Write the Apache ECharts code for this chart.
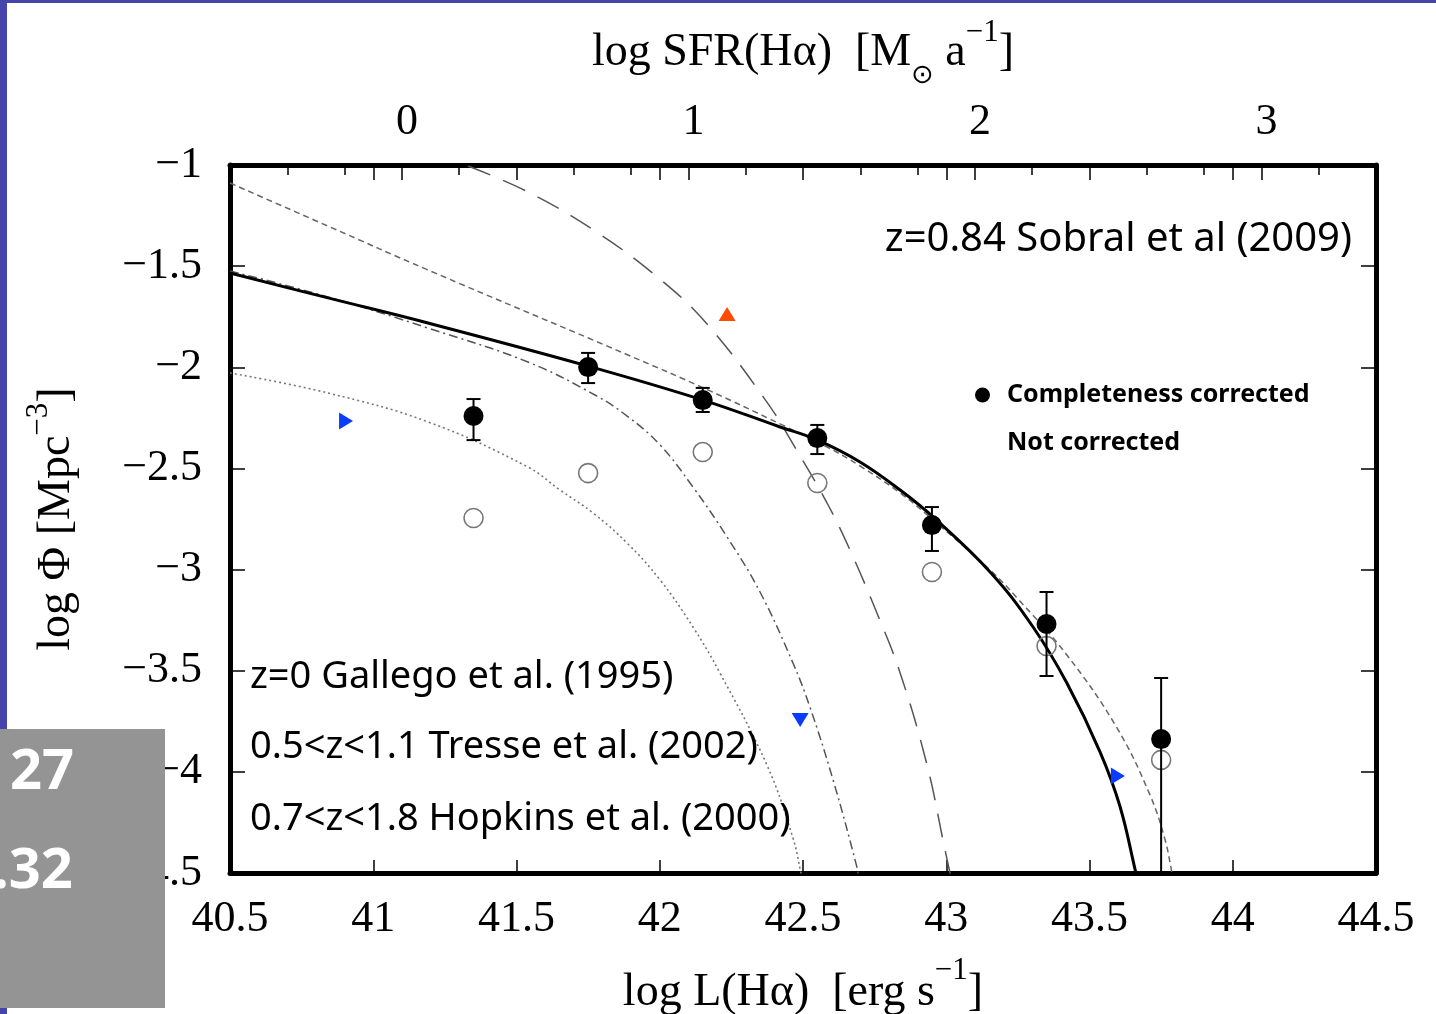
<!DOCTYPE html>
<html>
<head>
<meta charset="utf-8">
<script src="https://cdn.jsdelivr.net/npm/echarts@6/dist/echarts.min.js"></script>
<style>html,body{margin:0;padding:0;background:#fff;}#c{width:1436px;height:1014px;}</style>
</head>
<body>
<div id="c"></div>
<script>
// ---- axis ticks ----
const xTickValues = [40.5, 41, 41.5, 42, 42.5, 43, 43.5, 44, 44.5];
const yTickValues = [-1, -1.5, -2, -2.5, -3, -3.5, -4, -4.5];
const sfrTickLabels = ['0', '1', '2', '3'];

// ---- data points (log L, log Phi) ----
const binCentres = [41.35, 41.75, 42.15, 42.55, 42.95, 43.35, 43.75];
const phiCorrected = [-2.241, -1.999, -2.162, -2.350, -2.780, -3.269, -3.838];
const errHigh = [-2.157, -1.929, -2.102, -2.285, -2.691, -3.111, -3.536];
const errLow = [-2.360, -2.078, -2.221, -2.429, -2.908, -3.526, -4.60];
const phiUncorrected = [-2.745, -2.523, -2.419, -2.572, -3.012, -3.378, -3.941];

// ---- curves ----
const sobralFit = [[40.5,-1.534],[40.842,-1.657],[41.191,-1.781],[41.750,-1.994],[42.151,-2.162],[42.420,-2.295],[42.549,-2.359],[42.699,-2.468],[42.839,-2.607],[42.954,-2.740],[43.153,-3.012],[43.303,-3.284],[43.421,-3.561],[43.537,-3.902],[43.606,-4.169],[43.662,-4.500],[43.669,-4.544]];
const shortDashFit = [[40.5,-1.089],[40.842,-1.302],[41.191,-1.519],[41.889,-1.939],[42.168,-2.112],[42.420,-2.280],[42.584,-2.394],[42.699,-2.488],[42.839,-2.621],[42.954,-2.755],[43.153,-3.002],[43.247,-3.140],[43.421,-3.422],[43.596,-3.783],[43.711,-4.114],[43.764,-4.337],[43.788,-4.500],[43.795,-4.544]];
const tresseFit = [[40.5,-1.524],[40.842,-1.652],[41.191,-1.806],[41.540,-1.974],[41.774,-2.137],[41.886,-2.241],[42.001,-2.384],[42.116,-2.592],[42.235,-2.839],[42.350,-3.111],[42.465,-3.462],[42.524,-3.679],[42.605,-4.040],[42.688,-4.470],[42.697,-4.544]];
const gallegoFit = [[40.5,-2.028],[40.842,-2.127],[41.191,-2.270],[41.540,-2.493],[41.652,-2.607],[41.767,-2.720],[41.886,-2.869],[42.001,-3.051],[42.116,-3.284],[42.210,-3.511],[42.374,-3.966],[42.465,-4.327],[42.493,-4.500],[42.500,-4.544]];
const longDashFit = [[41.331,-1.005],[41.540,-1.133],[41.774,-1.326],[42.004,-1.568],[42.168,-1.791],[42.374,-2.172],[42.465,-2.379],[42.584,-2.671],[42.664,-2.903],[42.758,-3.215],[42.839,-3.511],[42.933,-3.966],[42.992,-4.361],[43.013,-4.500],[43.020,-4.544]];

// ---- triangle markers ----
const orangeUp = [[42.235, -1.737]];
const blueRight = [[40.905, -2.266], [43.599, -4.020]];
const blueDown = [[42.490, -3.744]];

const SERIF = '"Liberation Serif", "Times New Roman", serif';
const COMIC = '"Comic Sans MS", "Noto Sans", sans-serif';
const minus = v => (v < 0 ? '\u2212' : '') + Math.abs(v);

const chart = echarts.init(document.getElementById('c'), null, {renderer: 'canvas'});

const curve = (name, data, color, width, type) => ({
  type: 'line', name, data, showSymbol: false, symbol: 'none', smooth: 0.4,
  xAxisIndex: 0, yAxisIndex: 0, clip: true, silent: true, z: 2,
  lineStyle: {color, width, type}
});

const labelStyle = {fontFamily: COMIC, fontSize: 38, fontWeight: 'normal', color: '#000'};

const option = {
  animation: false,
  backgroundColor: '#fff',
  grid: {left: 230, right: 60, top: 165, bottom: 141, show: false, containLabel: false, outerBoundsMode: 'none'},
  title: [
    {text: 'z=0.84 Sobral et al (2009)', right: 84, top: 220, padding: 0,
     textStyle: {fontFamily: COMIC, fontSize: 40, fontWeight: 'normal', color: '#000'}},
    {text: 'z=0 Gallego et al. (1995)', left: 250, top: 658, padding: 0, textStyle: labelStyle},
    {text: '0.5<z<1.1 Tresse et al. (2002)', left: 250, top: 728, padding: 0, textStyle: labelStyle},
    {text: '0.7<z<1.8 Hopkins et al. (2000)', left: 250, top: 800, padding: 0, textStyle: labelStyle}
  ],
  legend: {
    orient: 'vertical', left: 970, top: 373, itemGap: 14, itemWidth: 15, itemHeight: 15,
    selectedMode: false,
    textStyle: {fontFamily: COMIC, fontSize: 25, fontWeight: 'bold', color: '#000', padding: [0, 0, 0, 12], lineHeight: 34},
    data: [
      {name: 'Completeness corrected', icon: 'circle', itemStyle: {color: '#000', opacity: 1}},
      {name: 'Not corrected', icon: 'none'}
    ]
  },
  xAxis: [
    {
      type: 'value', position: 'bottom', min: 40.5, max: 44.5, interval: 0.5,
      name: '{n|log L(H\u03b1)  [erg s}{sup|\u22121}{n|]}',
      nameLocation: 'middle', nameGap: 82,
      nameTextStyle: {color: '#000', rich: {
        n: {fontFamily: SERIF, fontSize: 46, color: '#000'},
        sup: {fontFamily: SERIF, fontSize: 31, color: '#000', padding: [0, 0, 44, 0]}
      }},
      axisLine: {show: true, onZero: false, lineStyle: {color: '#000', width: 5}},
      axisTick: {show: true, inside: true, length: 13, lineStyle: {color: '#000', width: 1.5}},
      splitLine: {show: false},
      axisLabel: {show: true, margin: 24, fontFamily: SERIF, fontSize: 44, color: '#000',
        formatter: v => String(v)}
    },
    {
      type: 'value', position: 'top', min: -0.6, max: 3.4, splitNumber: 4,
      name: '{n|log SFR(H\u03b1)  [M}{sub|\u2299}{n| a}{sup|\u22121}{n|]}',
      nameLocation: 'middle', nameGap: 76,
      nameTextStyle: {color: '#000', rich: {
        n: {fontFamily: SERIF, fontSize: 46, color: '#000'},
        sub: {fontFamily: '"DejaVu Sans", sans-serif', fontSize: 27, color: '#000', padding: [46, 0, 0, 0]},
        sup: {fontFamily: SERIF, fontSize: 31, color: '#000', padding: [0, 0, 40, 0]}
      }},
      axisLine: {show: true, onZero: false, lineStyle: {color: '#000', width: 5}},
      axisTick: {show: true, inside: true, length: 15, lineStyle: {color: '#000', width: 1.5}},
      minorTick: {show: true, splitNumber: 5, length: 10, lineStyle: {color: '#000', width: 1.5}},
      splitLine: {show: false},
      axisLabel: {show: true, margin: 21, fontFamily: SERIF, fontSize: 44, color: '#000',
        showMinLabel: false, showMaxLabel: false, padding: [0, 0, 0, 10],
        formatter: v => (Math.abs(v - Math.round(v)) < 1e-6 && sfrTickLabels[Math.round(v)] !== undefined) ? sfrTickLabels[Math.round(v)] : ''}
    },
    {
      type: 'value', position: 'top', min: 40.5, max: 44.5, interval: 0.5,
      axisLine: {show: false},
      axisTick: {show: true, inside: true, length: 15, lineStyle: {color: '#000', width: 1.5}},
      axisLabel: {show: false}, splitLine: {show: false}
    }
  ],
  yAxis: [
    {
      type: 'value', position: 'left', min: -4.5, max: -1, interval: 0.5,
      name: '{n|log \u03a6 [Mpc}{sup|\u22123}{n|]}',
      nameLocation: 'middle', nameGap: 140, nameRotate: 90,
      nameTextStyle: {color: '#000', rich: {
        n: {fontFamily: SERIF, fontSize: 46, color: '#000'},
        sup: {fontFamily: SERIF, fontSize: 31, color: '#000', padding: [0, 0, 36, 0]}
      }},
      axisLine: {show: true, onZero: false, lineStyle: {color: '#000', width: 5}},
      axisTick: {show: true, inside: true, length: 15, lineStyle: {color: '#000', width: 1.5}},
      splitLine: {show: false},
      axisLabel: {show: true, margin: 28, fontFamily: SERIF, fontSize: 44, color: '#000', formatter: minus}
    },
    {
      type: 'value', position: 'right', min: -4.5, max: -1, interval: 0.5,
      axisLine: {show: true, onZero: false, lineStyle: {color: '#000', width: 5}},
      axisTick: {show: true, inside: true, length: 15, lineStyle: {color: '#000', width: 1.5}},
      axisLabel: {show: false}, splitLine: {show: false}
    }
  ],
  series: [
    curve('Gallego z=0', gallegoFit, '#777', 1.6, [2, 3]),
    curve('Tresse', tresseFit, '#555', 1.5, [9, 4, 2, 4]),
    curve('Long dashed', longDashFit, '#555', 1.5, [24, 14]),
    curve('Short dashed', shortDashFit, '#666', 1.5, [6, 4]),
    curve('Sobral fit', sobralFit, '#000', 3, 'solid'),
    {
      type: 'custom', name: 'errors', xAxisIndex: 0, yAxisIndex: 0, clip: true, silent: true, z: 4,
      data: binCentres.map((x, i) => [x, errLow[i], errHigh[i]]),
      renderItem: (params, api) => {
        const x = api.value(0);
        const lo = api.coord([x, api.value(1)]);
        const hi = api.coord([x, api.value(2)]);
        const cap = 7;
        const style = {stroke: '#000', lineWidth: 2, fill: null};
        return {type: 'group', children: [
          {type: 'line', shape: {x1: lo[0], y1: lo[1], x2: hi[0], y2: hi[1]}, style},
          {type: 'line', shape: {x1: lo[0] - cap, y1: lo[1], x2: lo[0] + cap, y2: lo[1]}, style},
          {type: 'line', shape: {x1: hi[0] - cap, y1: hi[1], x2: hi[0] + cap, y2: hi[1]}, style}
        ]};
      }
    },
    {
      type: 'scatter', name: 'Not corrected', xAxisIndex: 0, yAxisIndex: 0, z: 3,
      data: binCentres.map((x, i) => [x, phiUncorrected[i]]),
      symbol: 'circle', symbolSize: 19,
      itemStyle: {color: 'rgba(255,255,255,0)', borderColor: '#777', borderWidth: 1.6, opacity: 1}
    },
    {
      type: 'scatter', name: 'Completeness corrected', xAxisIndex: 0, yAxisIndex: 0, z: 5,
      data: binCentres.map((x, i) => [x, phiCorrected[i]]),
      symbol: 'circle', symbolSize: 20,
      itemStyle: {color: '#000', opacity: 1}
    },
    {
      type: 'scatter', name: 'orange', xAxisIndex: 0, yAxisIndex: 0, z: 6, silent: true,
      data: orangeUp, symbol: 'triangle', symbolSize: [17, 14],
      itemStyle: {color: '#ff4a00', opacity: 1}
    },
    {
      type: 'scatter', name: 'blueRight', xAxisIndex: 0, yAxisIndex: 0, z: 6, silent: true,
      data: blueRight, symbol: 'triangle', symbolSize: [17, 14], symbolRotate: -90,
      itemStyle: {color: '#0a3cff', opacity: 1}
    },
    {
      type: 'scatter', name: 'blueDown', xAxisIndex: 0, yAxisIndex: 0, z: 6, silent: true,
      data: blueDown, symbol: 'triangle', symbolSize: [17, 14], symbolRotate: 180,
      itemStyle: {color: '#0a3cff', opacity: 1}
    }
  ],
  graphic: [
    {type: 'rect', z: 100, shape: {x: 0, y: 0, width: 1436, height: 3}, style: {fill: '#4444aa'}},
    {type: 'rect', z: 100, shape: {x: 0, y: 0, width: 7, height: 1014}, style: {fill: '#4444aa'}},
    {type: 'rect', z: 101, shape: {x: 0, y: 729, width: 165, height: 279}, style: {fill: '#949494'}},
    {type: 'text', z: 102, x: 10, y: 773, style: {text: '27', fill: '#fff', fontFamily: COMIC, fontWeight: 'bold', fontSize: 56, verticalAlign: 'middle', align: 'left'}},
    {type: 'text', z: 102, x: -7, y: 872, style: {text: '.32', fill: '#fff', fontFamily: COMIC, fontWeight: 'bold', fontSize: 56, verticalAlign: 'middle', align: 'left'}}
  ]
};
chart.setOption(option);
</script>
</body>
</html>
